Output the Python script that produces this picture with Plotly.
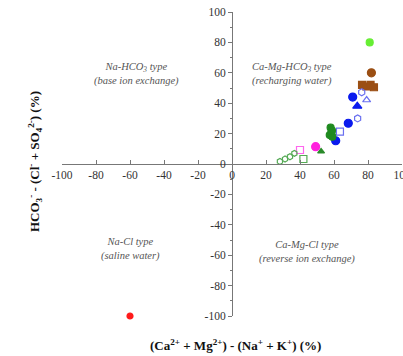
import plotly.graph_objects as go

# ---- data ----
red_x = [-60]; red_y = [-100]
lime_x = [81]; lime_y = [80]
brown_circ_x = [82]; brown_circ_y = [60]
brown_sq_x = [76.5, 79, 81.5, 83.5]; brown_sq_y = [52, 51, 52, 50.5]
blue_fill_circ_x = [71, 68.4, 61]; blue_fill_circ_y = [44, 26.8, 15.3]
blue_fill_tri_x = [73.7]; blue_fill_tri_y = [38]
blue_open_hex_x = [76.3, 73.9]; blue_open_hex_y = [47.2, 30]
blue_open_tri_x = [79.2]; blue_open_tri_y = [42.1]
blue_open_sq_x = [63.5]; blue_open_sq_y = [21.3]
dkgreen_x = [58, 58.5, 57.5, 59, 58.8]; dkgreen_y = [24, 21, 19, 18, 22]
dkgreen_tri_x = [52.4]; dkgreen_tri_y = [8.3]
mag_fill_x = [49.2]; mag_fill_y = [11.4]
mag_open_x = [40]; mag_open_y = [9.2]
ltgreen_open_x = [28.2, 31.2, 34.1, 36.7]; ltgreen_open_y = [1.7, 3.3, 4.8, 7]
ltgreen_sq_x = [42]; ltgreen_sq_y = [3.3]

tick_vals = [-100, -80, -60, -40, -20, 0, 20, 40, 60, 80, 100]
x_tick_text = ["-100", "-80", "-60", "-40", "-20", "0", "20", "40", "60", "80", "100"]
y_tick_text = ["-100", "-80", "-60", "-40", "-20", "0", "20", "40", "60", "80", "100"]

fig = go.Figure()

def add(x, y, color, symbol, size=7, lw=1.2):
    fig.add_trace(go.Scatter(x=x, y=y, mode="markers",
                             marker=dict(color=color, symbol=symbol, size=size,
                                         line=dict(color=color, width=lw)),
                             showlegend=False, cliponaxis=False))

add(red_x, red_y, "#ff1a1a", "circle", 6)
add(lime_x, lime_y, "#66ee33", "circle", 7)
add(brown_circ_x, brown_circ_y, "#9b4f14", "circle", 8)
add(brown_sq_x, brown_sq_y, "#9b4f14", "square", 7)
add(blue_fill_circ_x, blue_fill_circ_y, "#0a1aee", "circle", 8)
add(blue_fill_tri_x, blue_fill_tri_y, "#0a1aee", "triangle-up", 8)
add(blue_open_hex_x, blue_open_hex_y, "#6a70f0", "hexagon-open", 7)
add(blue_open_tri_x, blue_open_tri_y, "#6a70f0", "triangle-up-open", 7)
add(blue_open_sq_x, blue_open_sq_y, "#6a70f0", "square-open", 7)
add(dkgreen_x, dkgreen_y, "#1f8a1f", "circle", 7)
add(dkgreen_tri_x, dkgreen_tri_y, "#2a8a2a", "triangle-up", 6)
add(mag_fill_x, mag_fill_y, "#ff22dd", "circle", 8)
add(mag_open_x, mag_open_y, "#ff66ee", "square-open", 7)
add(ltgreen_open_x, ltgreen_open_y, "#55aa55", "hexagon-open", 6)
add(ltgreen_sq_x, ltgreen_sq_y, "#55aa55", "square-open", 7)

tickfont = dict(family="Liberation Serif", size=11.5, color="#333333")
fig.update_layout(
    width=403, height=356,
    margin=dict(l=62, r=1, t=12, b=40, autoexpand=False),
    paper_bgcolor="white", plot_bgcolor="white",
    xaxis=dict(range=[-100, 100], anchor="free", position=0.5, automargin=False,
               showgrid=False, zeroline=False, showline=True, linecolor="#777777", linewidth=1,
               ticks="inside", ticklen=4, tickcolor="#777777",
               tickmode="array", tickvals=tick_vals, ticktext=x_tick_text,
               tickfont=tickfont, ticklabeloverflow="allow"),
    yaxis=dict(range=[-100, 100], anchor="free", position=0.5, automargin=False,
               showgrid=False, zeroline=False, showline=True, linecolor="#777777", linewidth=1,
               ticks="outside", ticklen=4, tickcolor="#777777",
               tickmode="array", tickvals=tick_vals, ticktext=y_tick_text,
               tickfont=tickfont,
               minor=dict(ticks="outside", ticklen=2, tickcolor="#777777", dtick=10)),
)

afont = dict(family="Liberation Serif", size=10.5, color="#555555")
labels = [
    (-56, 59, "<i>Na-HCO<sub>3</sub> type</i><br><i>(base ion exchange)</i>"),
    (35, 59, "<i>Ca-Mg-HCO<sub>3</sub> type</i><br><i>(recharging water)</i>"),
    (-60, -56, "<i>Na-Cl type</i><br><i>(saline water)</i>"),
    (44, -58, "<i>Ca-Mg-Cl type</i><br><i>(reverse ion exchange)</i>"),
]
for x, y, t in labels:
    fig.add_annotation(x=x, y=y, text=t, showarrow=False, font=afont, align="center")

tfont = dict(family="Liberation Serif", size=13, color="#111111")
fig.add_annotation(xref="paper", yref="paper", x=(235-62)/340, y=-0.095, yanchor="middle",
                   text="<b>(Ca<sup>2+</sup> + Mg<sup>2+</sup>) - (Na<sup>+</sup> + K<sup>+</sup>) (%)</b>",
                   showarrow=False, font=tfont)
fig.add_annotation(xref="paper", yref="paper", x=(35-62)/340, y=(344-190)/304, textangle=-90,
                   xanchor="center", yanchor="middle",
                   text="<b>HCO<sub>3</sub><sup>-</sup> - (Cl<sup>-</sup> + SO<sub>4</sub><sup>2-</sup>) (%)</b>",
                   showarrow=False, font=tfont)

fig.write_html("out.html")
